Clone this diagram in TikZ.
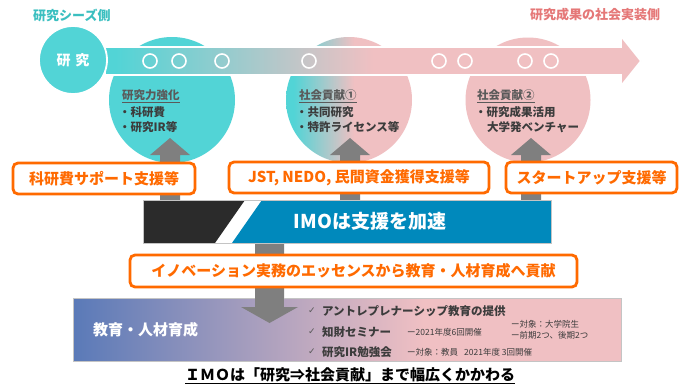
\documentclass[tikz,border=0pt]{standalone}
\usepackage{fontspec}
\setmainfont{Noto Sans CJK JP}
\newfontfamily\symfont{DejaVu Sans}
\definecolor{tealc}{HTML}{52D4D6}
\definecolor{pinkc}{HTML}{F0C0C2}
\definecolor{tealtxt}{HTML}{3BBFC0}
\definecolor{pinktxt}{HTML}{E57878}
\definecolor{dgray}{HTML}{3C3C3C}
\definecolor{hgray}{HTML}{5A5A5A}
\definecolor{arrowgray}{HTML}{7F7F7F}
\definecolor{orangec}{HTML}{FF6A00}
\definecolor{imoblack}{HTML}{2B2B2B}
\definecolor{imoblue}{HTML}{0089BC}
\definecolor{edgegray}{HTML}{C4C4C4}
\pgfdeclarehorizontalshading{barshade}{100bp}{rgb(0bp)=(0.322,0.831,0.839); rgb(26bp)=(0.322,0.831,0.839); rgb(50bp)=(0.941,0.753,0.761); rgb(100bp)=(0.941,0.753,0.761)}
\pgfdeclarehorizontalshading{circshade}{100bp}{rgb(0bp)=(0.322,0.831,0.839); rgb(28bp)=(0.322,0.831,0.839); rgb(52bp)=(0.941,0.753,0.761); rgb(100bp)=(0.941,0.753,0.761)}
\pgfdeclarehorizontalshading{edushade}{100bp}{rgb(0bp)=(0.353,0.478,0.722); rgb(25bp)=(0.353,0.478,0.722); rgb(57bp)=(0.941,0.753,0.765); rgb(100bp)=(0.941,0.753,0.765)}
\newcommand\fsz[1]{\fontsize{#1}{#1}\selectfont}
\begin{document}
\begin{tikzpicture}[x=1pt,y=-1pt,
  txt/.style={inner sep=0pt, anchor=west, text=dgray, font=\bfseries\fsz{11.5}},
  hdr/.style={inner sep=0pt, anchor=west, text=hgray, font=\bfseries\fsz{11.5}},
  obox/.style={draw=orangec, line width=2.8pt, rounded corners=5pt, fill=white, text=orangec, font=\bfseries\fsz{15}, inner sep=0pt},
  garrow/.style={fill=arrowgray, draw=none},
  smallc/.style={draw=white, line width=1.6pt, circle, minimum size=14pt, inner sep=0pt},
  chk/.style={inner sep=0pt, anchor=west, text=hgray, font=\symfont\fsz{9}},
  item/.style={inner sep=0pt, anchor=west, text=dgray, font=\bfseries\fsz{11.5}},
  note/.style={inner sep=0pt, anchor=west, text=dgray, font=\fsz{8.5}}]
\useasboundingbox (0,0) rectangle (680,388);
\fill[white] (0,0) rectangle (680,388);

% side labels
\node[inner sep=0pt, anchor=west, text=tealtxt, font=\bfseries\fsz{13}] (seeds) at (33,15) {研究シーズ側};
\node[inner sep=0pt, anchor=west, text=pinktxt, font=\bfseries\fsz{13}] (impl) at (530,15) {研究成果の社会実装側};

% big circles
\node[circle, fill=tealc, minimum size=126pt, inner sep=0pt] (c1) at (172,100) {};
\node[circle, shading=circshade, minimum size=126pt, inner sep=0pt] (c2) at (349,100) {};
\node[circle, fill=pinkc, minimum size=125pt, inner sep=0pt] (c3) at (528,100) {};

% main arrow bar
\path[shading=barshade, draw=white, line width=1.8pt] (105,47) -- (621,47) -- (621,36) -- (641,61) -- (621,86) -- (621,75) -- (105,75) -- cycle;

% research circle
\node[circle, fill=tealc, draw=white, line width=1.8pt, minimum size=68pt, inner sep=0pt, text=white, font=\bfseries\fsz{14}] (res) at (73,60) {研\hspace{5pt}究};

% small circles
\foreach \x [count=\i] in {150,179,222,309,439,465,525,551}
  \node[smallc] (s\i) at (\x,61) {};

% circle texts
\node[hdr] (h1) at (122,96) {\underline{研究力強化}};
\node[txt] (t1a) at (119,112) {・科研費};
\node[txt] (t1b) at (119,127) {・研究IR等};
\node[hdr] (h2) at (299,96) {\underline{社会貢献①}};
\node[txt] (t2a) at (296,112) {・共同研究};
\node[txt] (t2b) at (296,127) {・特許ライセンス等};
\node[hdr] (h3) at (477,96) {\underline{社会貢献②}};
\node[txt] (t3a) at (475,112) {・研究成果活用};
\node[txt] (t3b) at (487,127) {大学発ベンチャー};

% up arrows
\foreach \cx in {170,350,531}
  \fill[garrow] (\cx-10,200) -- (\cx-10,155) -- (\cx-20,155) -- (\cx,138) -- (\cx+20,155) -- (\cx+10,155) -- (\cx+10,200) -- cycle;

% down arrow
\fill[garrow] (255,243) -- (284,243) -- (284,307) -- (298,307) -- (269.5,323) -- (241,307) -- (255,307) -- cycle;

% orange boxes
\node[obox, minimum width=182pt, minimum height=31pt] (b1) at (104,178.5) {科研費サポート支援等};
\node[obox, minimum width=260pt, minimum height=31pt] (b2) at (359,177.5) {JST, NEDO, 民間資金獲得支援等};
\node[obox, minimum width=171pt, minimum height=31pt] (b3) at (591.5,177.5) {スタートアップ支援等};

% IMO bar
\fill[white] (143,200) rectangle (551,243);
\fill[imoblack] (143,200) -- (245,200) -- (215,243) -- (143,243) -- cycle;
\fill[imoblue] (262,200) -- (551,200) -- (551,243) -- (232,243) -- cycle;
\draw[edgegray, line width=0.8pt] (143,200) rectangle (551,243);
\node[inner sep=0pt, text=white, font=\bfseries\fsz{19}] (imo) at (370,221.5) {IMOは支援を加速};

% orange box 4
\node[obox, minimum width=447pt, minimum height=32pt] (b4) at (353.5,271) {イノベーション実務のエッセンスから教育・人材育成へ貢献};

% education bar
\path[shading=edushade, draw=edgegray, line width=0.8pt] (73,298) rectangle (621,361);
\fill[garrow] (241,307) -- (269.5,323) -- (298,307) -- cycle;
\fill[garrow] (255,298.4) rectangle (284,307.5);
\node[inner sep=0pt, anchor=west, text=white, font=\bfseries\fsz{15}] (edu) at (93,330) {教育・人材育成};

\node[chk] (k1) at (308,311) {✓};
\node[item] (i1) at (322,311) {アントレプレナーシップ教育の提供};
\node[chk] (k2) at (308,332) {✓};
\node[item] (i2) at (322,332) {知財セミナー};
\node[note] (n2) at (407,332) {ー2021年度6回開催};
\node[note] (n2a) at (511,324) {ー対象：大学院生};
\node[note] (n2b) at (511,335) {ー前期2つ、後期2つ};
\node[chk] (k3) at (308,352) {✓};
\node[item] (i3) at (322,352) {研究IR勉強会};
\node[note] (n3) at (407,352) {ー対象：教員\hspace{6pt}2021年度 3回開催};

% title
\node[inner sep=0pt, text=black, font=\bfseries\fsz{15}] (title) at (350,376) {\underline{ＩＭＯは「研究⇒社会貢献」まで幅広くかかわる}};
\end{tikzpicture}
\end{document}
